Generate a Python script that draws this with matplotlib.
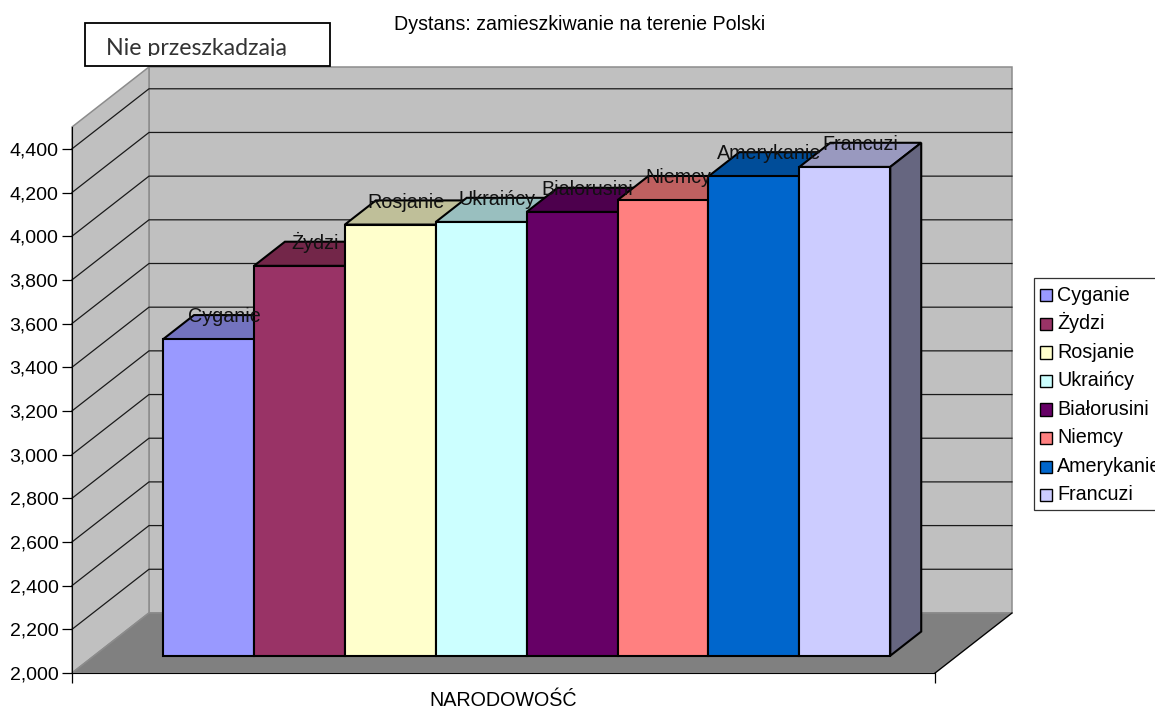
import matplotlib
matplotlib.use("Agg")
import matplotlib.pyplot as plt
from matplotlib.legend_handler import HandlerPatch
from matplotlib.patches import Patch, Polygon, Rectangle

plt.rcParams["font.family"] = ["Liberation Sans", "DejaVu Sans"]

categories = ["Cyganie", "Żydzi", "Rosjanie", "Ukraińcy", "Białorusini", "Niemcy", "Amerykanie", "Francuzi"]
values = [3449, 3785, 3974, 3986, 4032, 4086, 4195, 4238]
colors = ["#9999FF", "#993366", "#FFFFCC", "#CCFFFF", "#660066", "#FF8080", "#0066CC", "#CCCCFF"]
top_colors = ["#7373BF", "#732649", "#BFBF99", "#99BFBF", "#4D004D", "#BF6060", "#004D99", "#9999BF"]
side_colors = ["#4D4D80", "#4D1A33", "#808066", "#668080", "#330033", "#804040", "#003366", "#666680"]
y_ticks = list(range(2000, 4600, 200))

W, H = 1155, 708
y_min, y_max = 2000, 4500
x_min, x_max = -1.258, 8.236

# oblique depth of the chart box, in data units
depth_x = 0.847
depth_y = 275
bar_front = 0.288
bar_back = 0.69


def px(x, y, d):
    return (x + d * depth_x, y + d * depth_y)


def small_square(legend, orig_handle, xdescent, ydescent, width, height, fontsize):
    # row height stays even, the swatch is smaller than the row
    side = width
    return Rectangle((-xdescent, -ydescent + (height - side) / 2 - 1.0), side, side)


fig = plt.figure(figsize=(W / 100, H / 100), dpi=100)
ax = fig.add_axes([72 / W, 1 - 673 / H, 863 / W, 546 / H])
ax.set_xlim(x_min, x_max)
ax.set_ylim(y_min, y_max)

# walls and floor
back = [px(x_min, y_min, 1), px(x_max, y_min, 1), px(x_max, y_max, 1), px(x_min, y_max, 1)]
left = [px(x_min, y_min, 0), px(x_min, y_min, 1), px(x_min, y_max, 1), px(x_min, y_max, 0)]
floor = [px(x_min, y_min, 0), px(x_max, y_min, 0), px(x_max, y_min, 1), px(x_min, y_min, 1)]
for pts, c in [(back, "#C0C0C0"), (left, "#C0C0C0"), (floor, "#808080")]:
    ax.add_patch(Polygon(pts, closed=True, fc=c, ec="#8C8C8C", lw=1.1, clip_on=False, zorder=1))
ax.plot(*zip(px(x_max, y_min, 0), px(x_max, y_min, 1)), color="black", lw=0.9, clip_on=False, zorder=1.4)

# gridlines run along the left wall and the back wall
for v in y_ticks[1:]:
    pts = [px(x_min, v, 0), px(x_min, v, 1), px(x_max, v, 1)]
    ax.plot(*zip(*pts), color="#1A1A1A", lw=0.9, clip_on=False, zorder=1.5)

# bars
for i, val in enumerate(values):
    l, r = i - 0.5, i + 0.5
    front = [px(l, y_min, bar_front), px(r, y_min, bar_front), px(r, val, bar_front), px(l, val, bar_front)]
    top = [px(l, val, bar_front), px(r, val, bar_front), px(r, val, bar_back), px(l, val, bar_back)]
    side = [px(r, y_min, bar_front), px(r, y_min, bar_back), px(r, val, bar_back), px(r, val, bar_front)]
    z = 3 + i * 0.1
    ax.add_patch(Polygon(top, closed=True, fc=top_colors[i], ec="black", lw=1.5, clip_on=False, zorder=z))
    ax.add_patch(Polygon(side, closed=True, fc=side_colors[i], ec="black", lw=1.5, clip_on=False, zorder=z))
    ax.add_patch(Polygon(front, closed=True, fc=colors[i], ec="black", lw=1.5, clip_on=False, zorder=z + 0.01))

# data labels sit over the top faces
for i, val in enumerate(values):
    ax.annotate(categories[i], px(i, val, (bar_front + bar_back) / 2), xytext=(0, 3.6),
                textcoords="offset points", ha="center", va="baseline", fontsize=14.2,
                color="#111111", annotation_clip=False, zorder=6)

ax.spines["top"].set_visible(False)
ax.spines["right"].set_visible(False)
ax.spines["left"].set_zorder(2.5)
ax.spines["bottom"].set_zorder(2.5)
ax.set_yticks(y_ticks)
ax.set_yticklabels([f"{v:,}" if v <= 4400 else "" for v in y_ticks])
ax.set_xticks([x_min, x_max])
ax.set_xticklabels([])
ax.tick_params(axis="y", length=7, width=0.9, labelsize=14, pad=2.8)
ax.tick_params(axis="x", length=7, width=0.9)
ax.set_xlabel("NARODOWOŚĆ", fontsize=14.2, labelpad=2.5)
ax.set_facecolor("none")

fig.text(580 / W, 1 - 25 / H, "Dystans: zamieszkiwanie na terenie Polski", fontsize=14.1, ha="center", va="center")

# note box, its text is cut off by the box in the original
fig.add_artist(Rectangle((85 / W, 1 - 66 / H), 245 / W, 43 / H, transform=fig.transFigure,
                         fc="white", ec="black", lw=1.3))
note = fig.text(106 / W, 1 - 55 / H, "Nie przeszkadzają", fontsize=16.7, family="Lato", ha="left", va="baseline",
                color="#333333")
note.set_clip_path(Rectangle((85, H - 55.5), 245, 33, transform=None))
note.set_clip_on(True)

handles = [Patch(fc=c, ec="black", lw=1.0) for c in colors]
leg = fig.legend(handles, categories, loc="upper left", bbox_to_anchor=(1034 / W, 1 - 278 / H),
                 borderaxespad=0, fontsize=14.2, frameon=True, fancybox=False, edgecolor="#333333",
                 framealpha=1, handlelength=0.62, handleheight=1.25, handletextpad=0.28,
                 labelspacing=0.38, borderpad=0.28,
                 handler_map={Patch: HandlerPatch(patch_func=small_square)})
leg.get_frame().set_linewidth(0.9)

fig.savefig("out.png", dpi=100)
